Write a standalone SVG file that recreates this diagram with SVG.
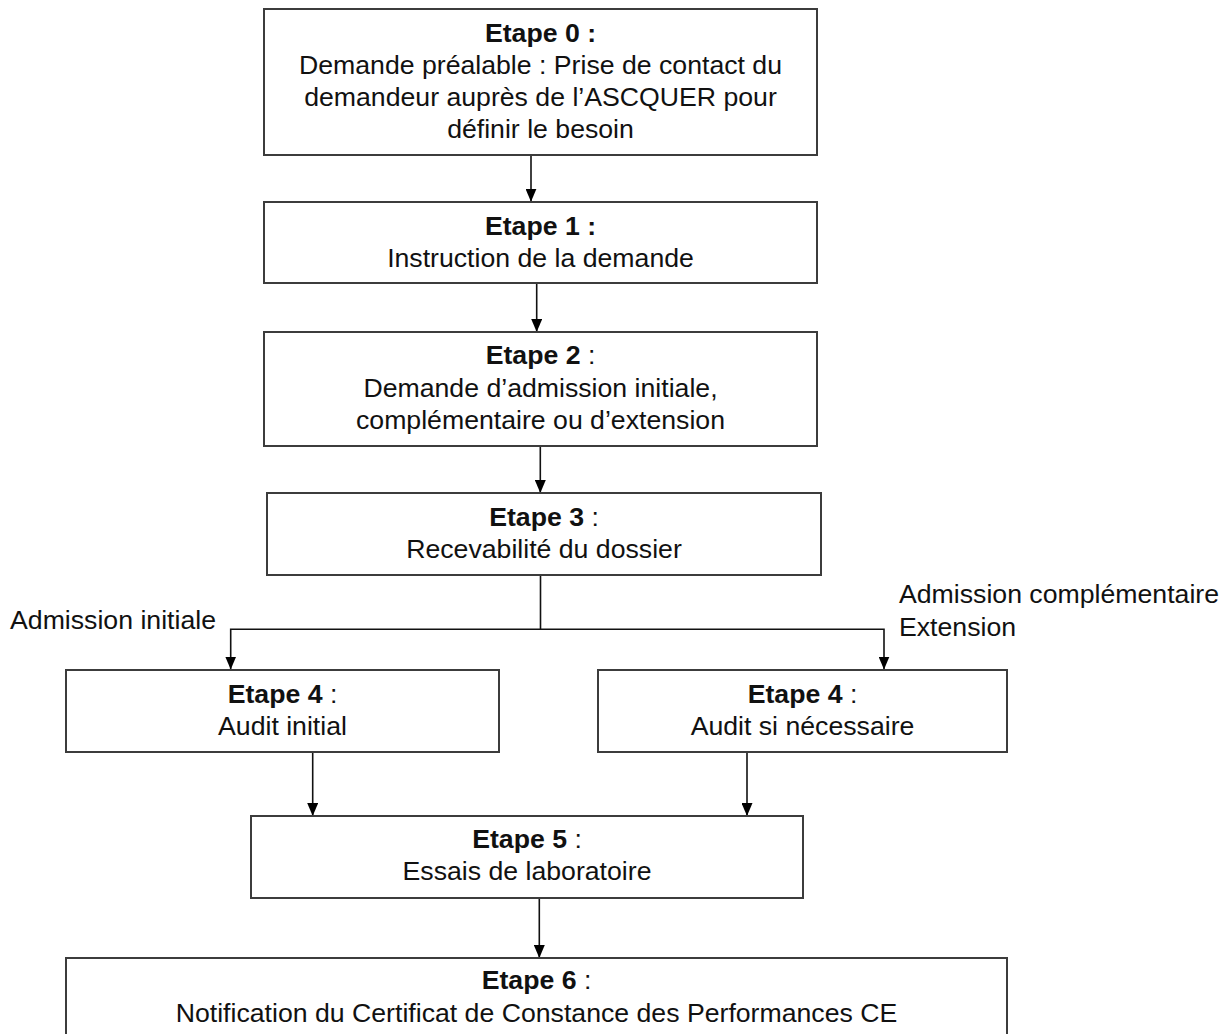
<svg xmlns="http://www.w3.org/2000/svg" width="1230" height="1034" viewBox="0 0 1230 1034">
<style>
.box{fill:#ffffff;stroke:#3c3c3c;stroke-width:2}
.t{font-family:"Liberation Sans",Arial,sans-serif;font-size:26.67px;fill:#111;text-anchor:middle}
.l{font-family:"Liberation Sans",Arial,sans-serif;font-size:26.67px;fill:#111}
.b{font-weight:bold}
.c{fill:none;stroke:#111;stroke-width:1.6}
</style>
<defs>
<marker id="ah" markerUnits="userSpaceOnUse" markerWidth="13" markerHeight="11" refX="13" refY="5.5" orient="auto">
<path d="M0,0 L13,5.5 L0,11 z" fill="#000"/>
</marker>
</defs>
<rect width="1230" height="1034" fill="#ffffff"/>
<g id="connectors">
<path class="c" d="M531,155 V201.7" marker-end="url(#ah)"/>
<path class="c" d="M536.7,283 V332" marker-end="url(#ah)"/>
<path class="c" d="M540.3,446 V493" marker-end="url(#ah)"/>
<path class="c" d="M540.5,575 V629.3 H230.7 V669.5" marker-end="url(#ah)"/>
<path class="c" d="M540.5,629.3 H884 V669.5" marker-end="url(#ah)"/>
<path class="c" d="M312.7,752 V816" marker-end="url(#ah)"/>
<path class="c" d="M747,752 V816" marker-end="url(#ah)"/>
<path class="c" d="M539.3,898 V958" marker-end="url(#ah)"/>
</g>
<g id="labels">
<text class="l" x="216" y="628.5" text-anchor="end">Admission initiale</text>
<text class="l" x="899" y="603">Admission complémentaire</text>
<text class="l" x="899" y="635.5">Extension</text>
</g>
<g id="etape0">
<rect class="box" x="264" y="9" width="553" height="146"/>
<text class="t b" x="540.5" y="41.7">Etape 0 :</text>
<text class="t" x="540.5" y="74">Demande préalable : Prise de contact du</text>
<text class="t" x="540.5" y="106">demandeur auprès de l’ASCQUER pour</text>
<text class="t" x="540.5" y="137.5">définir le besoin</text>
</g>
<g id="etape1">
<rect class="box" x="264" y="202" width="553" height="81"/>
<text class="t b" x="540.5" y="235">Etape 1 :</text>
<text class="t" x="540.5" y="266.7">Instruction de la demande</text>
</g>
<g id="etape2">
<rect class="box" x="264" y="332" width="553" height="114"/>
<text class="t" x="540.5" y="364"><tspan class="b">Etape 2</tspan> :</text>
<text class="t" x="540.5" y="397">Demande d’admission initiale,</text>
<text class="t" x="540.5" y="428.5">complémentaire ou d’extension</text>
</g>
<g id="etape3">
<rect class="box" x="267" y="493" width="554" height="82"/>
<text class="t" x="544" y="526"><tspan class="b">Etape 3</tspan> :</text>
<text class="t" x="544" y="558">Recevabilité du dossier</text>
</g>
<g id="etape4a">
<rect class="box" x="66" y="670" width="433" height="82"/>
<text class="t" x="282.5" y="702.7"><tspan class="b">Etape 4</tspan> :</text>
<text class="t" x="282.5" y="734.7">Audit initial</text>
</g>
<g id="etape4b">
<rect class="box" x="598" y="670" width="409" height="82"/>
<text class="t" x="802.5" y="702.7"><tspan class="b">Etape 4</tspan> :</text>
<text class="t" x="802.5" y="734.7">Audit si nécessaire</text>
</g>
<g id="etape5">
<rect class="box" x="251" y="816" width="552" height="82"/>
<text class="t" x="527" y="848.3"><tspan class="b">Etape 5</tspan> :</text>
<text class="t" x="527" y="880">Essais de laboratoire</text>
</g>
<g id="etape6">
<rect class="box" x="66" y="958" width="941" height="90"/>
<text class="t" x="536.5" y="989"><tspan class="b">Etape 6</tspan> :</text>
<text class="t" x="536.5" y="1021.7">Notification du Certificat de Constance des Performances CE</text>
</g>
</svg>
